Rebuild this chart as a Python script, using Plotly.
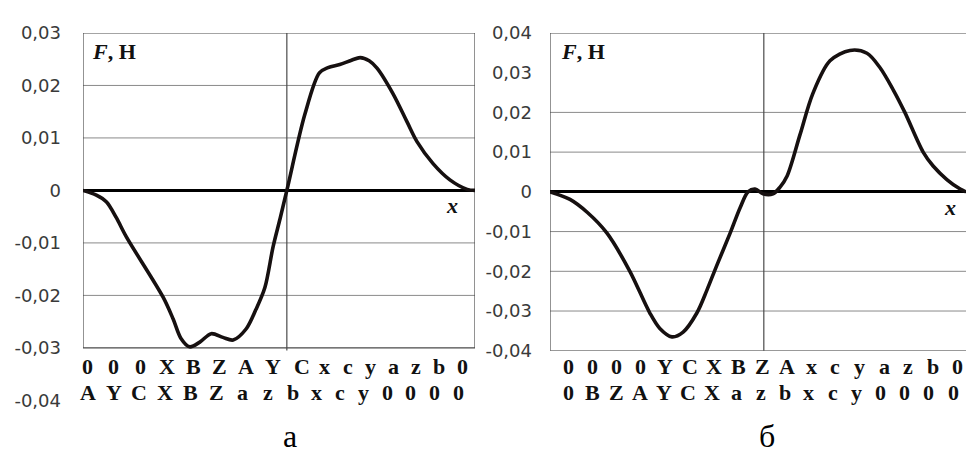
import numpy as np
import plotly.graph_objects as go

W, H = 966, 460

# ---- data: panel а (x as fraction of the path, F in N) ----
xa = [0.0, 0.034, 0.060, 0.085, 0.111, 0.204, 0.230, 0.250, 0.272, 0.298,
      0.327, 0.357, 0.383, 0.416, 0.441, 0.464, 0.485, 0.503, 0.520, 0.566,
      0.603, 0.625, 0.655, 0.685, 0.707, 0.730, 0.750, 0.791, 0.827, 0.852, 0.893, 0.936,
      0.980, 1.0]
fa = [0.0, -0.0009, -0.0022, -0.0052, -0.0089, -0.0203, -0.0245, -0.0282,
      -0.0298, -0.0289, -0.0273, -0.0280, -0.0285, -0.0264, -0.0227, -0.0185, -0.0107,
      -0.0053, 0.0, 0.0145, 0.0224, 0.0234, 0.0240, 0.0248, 0.0253, 0.0247,
      0.0233, 0.0184, 0.0130, 0.0093, 0.0051, 0.0020, 0.0002, 0.0]

# ---- data: panel б ----
xb = [0.0, 0.048, 0.090, 0.137, 0.192, 0.240, 0.264, 0.293, 0.320,
      0.353, 0.377, 0.401, 0.433, 0.457, 0.476, 0.493, 0.512, 0.536, 0.553, 0.570, 0.601,
      0.632, 0.673, 0.721, 0.762, 0.793, 0.825, 0.853, 0.897, 0.921, 0.954, 0.986,
      1.0]
fb = [0.0, -0.0019, -0.0052, -0.0104, -0.0200, -0.0305, -0.0344,
      -0.0365, -0.0353, -0.0305, -0.0248, -0.0185, -0.0104, -0.0040, 0.0, 0.0007, -0.0005,
      -0.0005, 0.0012, 0.0040, 0.0144, 0.0248, 0.0330, 0.0356, 0.0349, 0.0313, 0.0257,
      0.0200, 0.0100, 0.0065, 0.0031, 0.0007, 0.0]

# ---- tick labels ----
ya_vals = [0.03, 0.02, 0.01, 0, -0.01, -0.02, -0.03, -0.04]
ya_text = ["0,03", "0,02", "0,01", "0", "-0,01", "-0,02", "-0,03", "-0,04"]
yb_vals = [0.04, 0.03, 0.02, 0.01, 0, -0.01, -0.02, -0.03, -0.04]
yb_text = ["0,04", "0,03", "0,02", "0,01", "0", "-0,01", "-0,02", "-0,03", "-0,04"]
grid_a = [0.02, 0.01, -0.01, -0.02]
grid_b = [0.02, 0.01, -0.01, -0.02, -0.03]

labels_a_top = ["0", "0", "0", "X", "B", "Z", "A", "Y", "C", "x", "c", "y", "a", "z", "b", "0"]
labels_a_bot = ["A", "Y", "C", "X", "B", "Z", "a", "z", "b", "x", "c", "y", "0", "0", "0", "0"]
labels_b_top = ["0", "0", "0", "0", "Y", "C", "X", "B", "Z", "A", "x", "c", "y", "a", "z", "b", "0"]
labels_b_bot = ["0", "B", "Z", "A", "Y", "C", "X", "a", "z", "b", "x", "c", "y", "0", "0", "0", "0"]

# ---- layout geometry (pixels) ----
AX0, AX1 = 83, 475
BX0, BX1 = 550, 966
TOP = 23
A_BOT = 408
B_BOT = 356

def px2fx(p, a0, a1):
    return (p - a0) / (a1 - a0)

def py2paper(p):
    return (H - p) / H

fig = go.Figure()
curve_line = dict(color="#161010", width=3.6, shape="spline", smoothing=0.9)
fig.add_trace(go.Scatter(x=xa, y=fa, mode="lines", line=curve_line, xaxis="x", yaxis="y",
                         showlegend=False, hoverinfo="skip"))
fig.add_trace(go.Scatter(x=xb, y=fb, mode="lines", line=curve_line, xaxis="x2", yaxis="y2",
                         showlegend=False, hoverinfo="skip"))

tickfont = dict(family="DejaVu Sans", size=18, color="#3a3a3a")
hidden_x = dict(range=[0, 1], showgrid=False, zeroline=False, showticklabels=False,
                showline=False, ticks="", fixedrange=True)
fig.update_layout(
    width=W, height=H,
    margin=dict(l=0, r=0, t=0, b=0),
    paper_bgcolor="white", plot_bgcolor="white",
    xaxis=dict(domain=[AX0 / W, AX1 / W], anchor="y", **hidden_x),
    yaxis=dict(domain=[py2paper(A_BOT), py2paper(TOP)], range=[-0.04, 0.03], anchor="x",
               tickvals=ya_vals, ticktext=ya_text, tickfont=tickfont, ticks="",
               showgrid=False, showline=False, zeroline=True, zerolinecolor="#000",
               zerolinewidth=2.6, ticklabelstandoff=21),
    xaxis2=dict(domain=[BX0 / W, BX1 / W], anchor="y2", **hidden_x),
    yaxis2=dict(domain=[py2paper(B_BOT), py2paper(TOP)], range=[-0.04, 0.04], anchor="x2",
                tickvals=yb_vals, ticktext=yb_text, tickfont=tickfont, ticks="",
                showgrid=False, showline=False, zeroline=True, zerolinecolor="#000",
                zerolinewidth=2.6, ticklabelstandoff=17),
)

shapes = []
gcol = "#8a8a8a"
for g in grid_a:
    shapes.append(dict(type="line", xref="x", yref="y", x0=0, x1=1, y0=g, y1=g,
                       line=dict(color=gcol, width=1), layer="below"))
for g in grid_b:
    shapes.append(dict(type="line", xref="x2", yref="y2", x0=0, x1=1, y0=g, y1=g,
                       line=dict(color=gcol, width=1), layer="below"))
bcol = "#4a4a4a"
# box of panel а
shapes.append(dict(type="rect", xref="x", yref="y", x0=0, x1=1, y0=-0.03, y1=0.03,
                   line=dict(color=bcol, width=1.2), layer="below"))
shapes.append(dict(type="line", xref="x", yref="y", x0=0.52, x1=0.52, y0=-0.0305, y1=0.03,
                   line=dict(color=bcol, width=1.2), layer="below"))
# frame of panel б
shapes.append(dict(type="line", xref="x2", yref="y2", x0=0, x1=1, y0=0.04, y1=0.04,
                   line=dict(color=bcol, width=1.2), layer="below"))
shapes.append(dict(type="line", xref="x2", yref="y2", x0=0, x1=1, y0=-0.04, y1=-0.04,
                   line=dict(color=bcol, width=1.2), layer="below"))
shapes.append(dict(type="line", xref="x2", yref="y2", x0=0, x1=0, y0=-0.04, y1=0.04,
                   line=dict(color=bcol, width=1.2), layer="below"))
shapes.append(dict(type="line", xref="x2", yref="y2", x0=0.514, x1=0.514, y0=-0.041, y1=0.04,
                   line=dict(color=bcol, width=1.2), layer="below"))
fig.update_layout(shapes=shapes)

ann = []
lab_font = dict(family="Liberation Serif", size=22, color="#111")

def add_row(labels, positions, a0, a1, xref, ypix):
    for lab, p in zip(labels, positions):
        ann.append(dict(x=px2fx(p, a0, a1), y=py2paper(ypix), xref=xref, yref="paper",
                        text="<b>" + lab + "</b>", showarrow=False, font=lab_font,
                        xanchor="center", yanchor="middle"))

pos_a_top = list(np.linspace(87, 273, 8)) + list(np.linspace(302, 462, 8))
pos_a_bot = list(np.linspace(88, 268, 8)) + list(np.linspace(293, 458, 8))
pos_b_top = list(np.linspace(568, 957, 17))
pos_b_bot = list(np.linspace(568, 953, 17))
add_row(labels_a_top, pos_a_top, AX0, AX1, "x", 372)
add_row(labels_a_bot, pos_a_bot, AX0, AX1, "x", 400)
add_row(labels_b_top, pos_b_top, BX0, BX1, "x2", 373)
add_row(labels_b_bot, pos_b_bot, BX0, BX1, "x2", 400)

fh_font = dict(family="Liberation Serif", size=22, color="#111")
ann.append(dict(x=90, y=py2paper(42), xref="paper", yref="paper", text="<b><i>F</i>, H</b>",
                showarrow=False, font=fh_font, xanchor="left", yanchor="middle"))
ann.append(dict(x=559, y=py2paper(42), xref="paper", yref="paper", text="<b><i>F</i>, H</b>",
                showarrow=False, font=fh_font, xanchor="left", yanchor="middle"))
xl_font = dict(family="Liberation Serif", size=22, color="#111")
ann.append(dict(x=452, y=py2paper(204), xref="paper", yref="paper", text="<b><i>x</i></b>",
                showarrow=False, font=xl_font, xanchor="center", yanchor="middle"))
ann.append(dict(x=950, y=py2paper(206), xref="paper", yref="paper", text="<b><i>x</i></b>",
                showarrow=False, font=xl_font, xanchor="center", yanchor="middle"))
cap_font = dict(family="Liberation Serif", size=32, color="#000")
ann.append(dict(x=290, y=py2paper(445), xref="paper", yref="paper", text="а",
                showarrow=False, font=cap_font, xanchor="center", yanchor="middle"))
ann.append(dict(x=767, y=py2paper(445), xref="paper", yref="paper", text="б",
                showarrow=False, font=cap_font, xanchor="center", yanchor="middle"))

# convert paper x in pixels for the paper-referenced annotations
for a in ann:
    if a["xref"] == "paper" and a["x"] > 1:
        a["x"] = a["x"] / W
fig.update_layout(annotations=ann)

fig.write_html("out.html")
